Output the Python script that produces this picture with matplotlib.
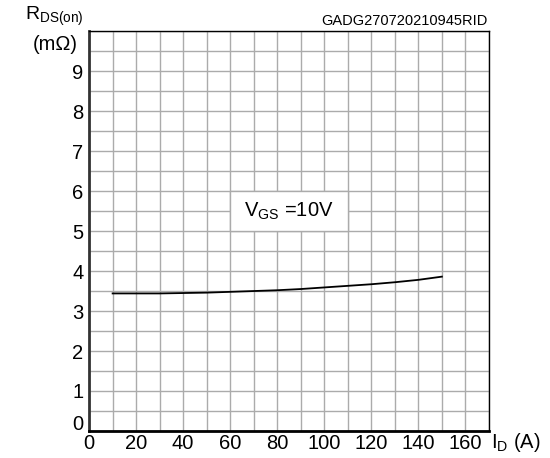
import matplotlib.pyplot as plt
from matplotlib.patches import Rectangle
from matplotlib.transforms import ScaledTranslation

plt.rcParams['font.family'] = ['Liberation Sans', 'DejaVu Sans']

current = [10, 30, 50, 60, 70, 80, 90, 100, 110, 120, 130, 140, 150]
rds_on = [3.44, 3.44, 3.46, 3.48, 3.50, 3.52, 3.55, 3.59, 3.63, 3.67, 3.72, 3.78, 3.86]

x_ticks = [0, 20, 40, 60, 80, 100, 120, 140, 160]
y_ticks = [0, 1, 2, 3, 4, 5, 6, 7, 8, 9]

fig = plt.figure(figsize=(5.5, 4.58), dpi=100)
ax = fig.add_axes([0.162, 0.059, 0.727, 0.873])

ax.set_xlim(0, 170)
ax.set_ylim(0, 10)
ax.set_xticks(range(0, 171, 10), minor=True)
ax.set_yticks([i * 0.5 for i in range(21)], minor=True)
ax.set_xticks(x_ticks)
ax.set_yticks(y_ticks)
ax.grid(which='both', color='#ababab', linewidth=1)
ax.set_axisbelow(True)
ax.tick_params(which='both', length=0, labelsize=14.5)
ax.tick_params(axis='x', pad=2)
ax.tick_params(axis='y', pad=4)
# the "0" on the y axis sits a bit higher, clear of the x labels
fig.canvas.draw()
lab0 = ax.get_yticklabels()[0]
lab0.set_transform(lab0.get_transform() + ScaledTranslation(0, 0.08, fig.dpi_scale_trans))
for sp in ax.spines.values():
    sp.set_color('black')
    sp.set_linewidth(1)
ax.spines['left'].set_linewidth(2)
ax.spines['left'].set_color('#333333')
ax.spines['bottom'].set_linewidth(2)

ax.plot(current, rds_on, color='black', linewidth=1.3, zorder=3)

ax.add_patch(Rectangle((60, 5), 50, 1, facecolor='white', edgecolor='#ababab',
                       linewidth=1, zorder=2))
ax.text(85, 5.5, r'V$_{\mathregular{GS}}$ =10V', ha='center', va='center',
        fontsize=14.5, zorder=4)

fig.text(0.886, 0.955, 'GADG270720210945RID', ha='right', va='center', fontsize=10.5)
fig.text(0.045, 0.965, r'R$_{\mathregular{DS(on)}}$', ha='left', va='center', fontsize=14)
fig.text(0.060, 0.903, '(m\u03a9)', ha='left', va='center', fontsize=14.5)
fig.text(0.893, 0.033, r'I$_{\mathregular{D}}$ (A)', ha='left', va='center', fontsize=14.5)

fig.savefig('out.png', dpi=100)
